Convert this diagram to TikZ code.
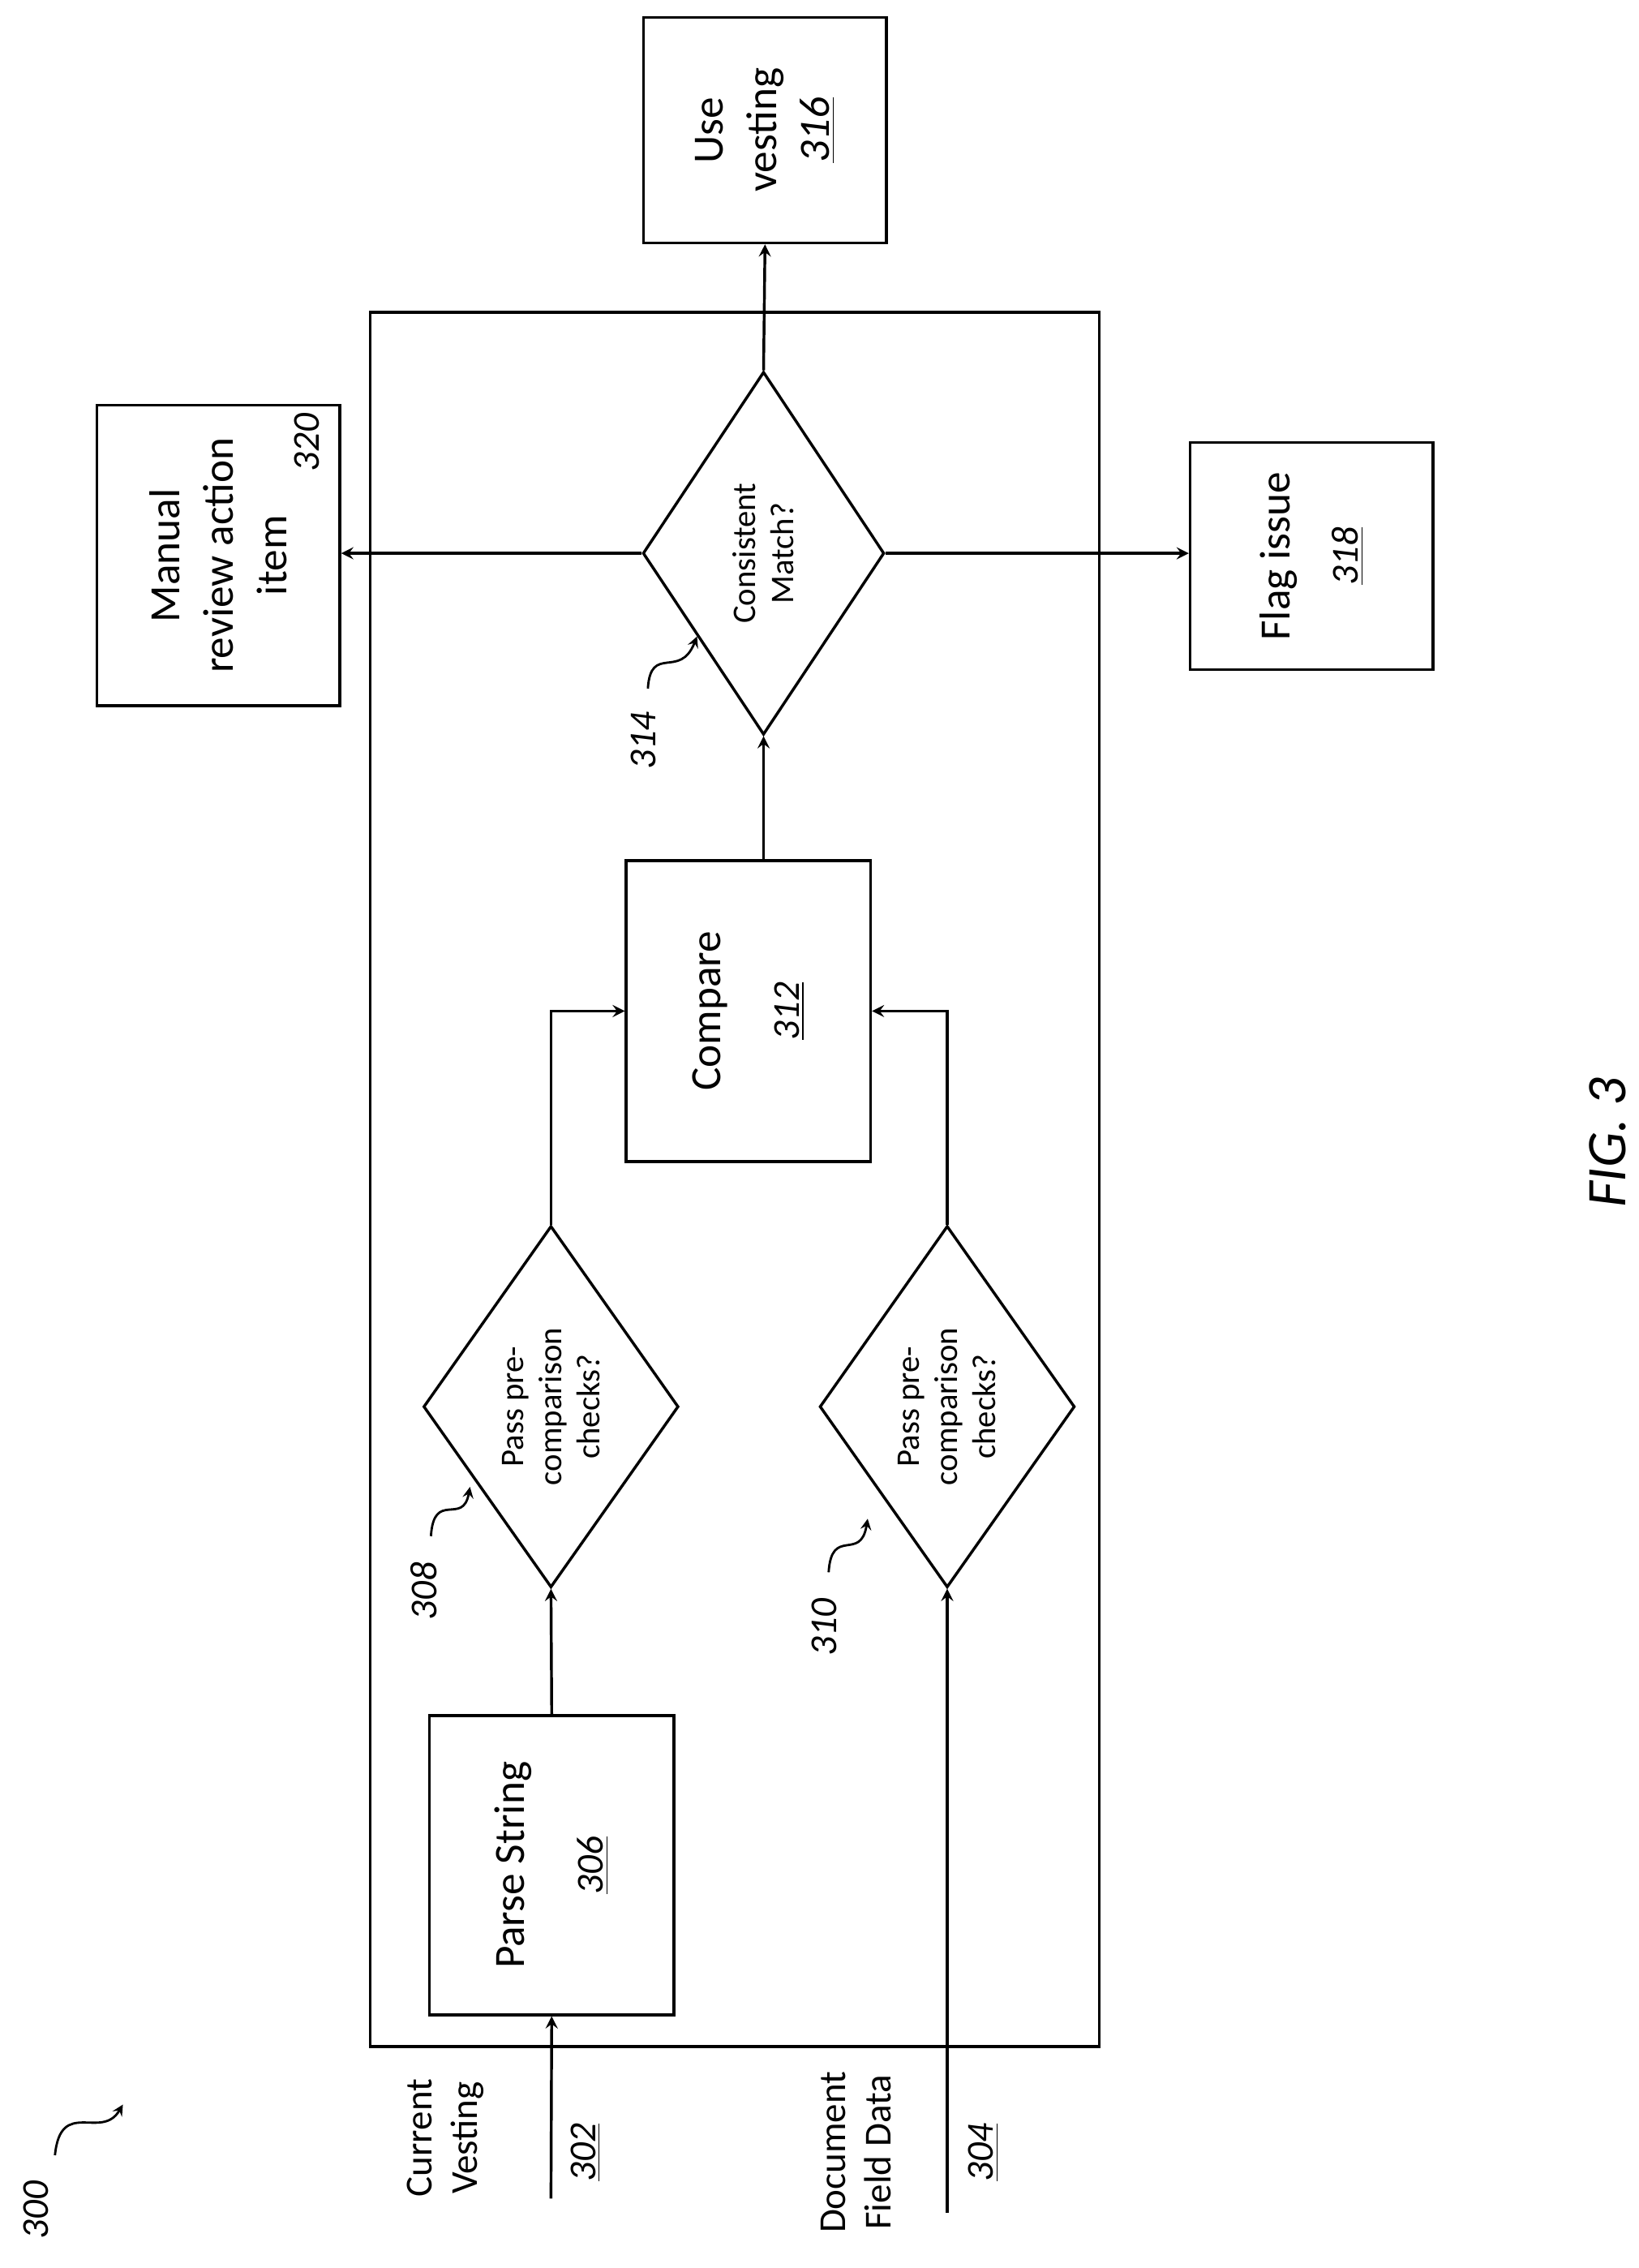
\documentclass[tikz,border=0pt]{standalone}
\usepackage{fontspec}
\setmainfont{Carlito}
\usetikzlibrary{shapes.geometric}

\tikzset{
  box/.style = {draw, line width = 1.1pt, rotate = 90, align = center, inner sep = 0pt,
                font = \fontsize{17}{21}\selectfont},
  test/.style = {draw, diamond, line width = 1.1pt, rotate = 90, align = center, inner sep = 0pt,
                 font = \fontsize{13}{15}\selectfont},
  tag/.style = {rotate = 90, font = \fontsize{15}{18}\selectfont\itshape},
  lbl/.style = {rotate = 90, align = center, font = \fontsize{15}{18}\selectfont},
  flow/.style = {line width = 1.1pt, ->, >=stealth}
}
\newcommand{\refnum}[1]{\underline{\itshape #1}}

\begin{document}
\begin{tikzpicture}[x = 0.02cm, y = -0.02cm]
                          \useasboundingbox (0,0) rectangle (1133,1568);
                          \draw [line width = 1.1pt] (256,216) rectangle (760,1415);
                          % boxes
                          \node (use) [box, minimum width = 3.12cm, minimum height = 3.36cm] at (529,90) {Use\\vesting\\\refnum{316}};
                          \node (man) [box, minimum width = 4.16cm, minimum height = 3.36cm] at (151,384) {Manual\\review action\\item};
                          \node (num320) [tag] at (212,306) {320};
                          \node (flag) [box, minimum width = 3.14cm, minimum height = 3.36cm] at (907,384.5) {Flag issue\\[6pt]{\fontsize{15}{18}\selectfont\refnum{318}}};
                          \node (cmp) [box, minimum width = 4.16cm, minimum height = 3.38cm] at (517.5,699) {Compare\\[10pt]{\fontsize{15}{18}\selectfont\refnum{312}}};
                          \node (parse) [box, minimum width = 4.14cm, minimum height = 3.38cm] at (381.5,1289.5) {Parse String\\[10pt]{\fontsize{15}{18}\selectfont\refnum{306}}};
                          % decisions
                          \node (d314) [test, minimum width = 5.02cm, minimum height = 3.34cm] at (528,382.5) {Consistent\\Match?};
                          \node (d308) [test, minimum width = 5.0cm, minimum height = 3.34cm] at (381,972.5) {Pass pre-\\comparison\\checks?};
                          \node (d310) [test, minimum width = 5.0cm, minimum height = 3.34cm] at (655,972.5) {Pass pre-\\comparison\\checks?};
                          % inputs
                          \coordinate (in302) at (381,1520);
                          \coordinate (in304) at (655,1530);
                          \node (cv) [lbl] at (308,1478) {Current\\Vesting};
                          \node (n302) [tag] at (405,1488) {\underline{302}};
                          \node (dfd) [lbl] at (592,1488) {Document\\Field Data};
                          \node (n304) [tag] at (680,1488) {\underline{304}};
                          % connectors
                          \draw [flow] (in302) -- (parse.west);
                          \draw [flow] (in304) -- (d310.west);
                          \draw [flow] (parse.east) -- (d308.west);
                          \draw [flow] (d308.east) |- (cmp.north);
                          \draw [flow] (d310.east) |- (cmp.south);
                          \draw [flow] (d314.west |- cmp.east) -- (d314.west);
                          \draw [flow] (d314.east) -- (use.west);
                          \draw [flow] (d314.north) -- (d314.north -| man.south);
                          \draw [flow] (d314.south) -- (d314.south -| flag.north);
                          % reference numerals
                          \node (n300) [tag] at (25,1528) {300};
                          \node (n308) [tag] at (293,1100) {308};
                          \node (n310) [tag] at (570,1125) {310};
                          \node (n314) [tag] at (445,512) {314};
                          \draw [line width = 0.9pt, ->, >=stealth] (38,1490) .. controls (42,1450) and (70,1480) .. (85,1455);
                          \draw [line width = 0.9pt, ->, >=stealth] (298,1062) .. controls (300,1030) and (320,1055) .. (325,1028);
                          \draw [line width = 0.9pt, ->, >=stealth] (573,1087) .. controls (575,1055) and (595,1080) .. (600,1050);
                          \draw [line width = 0.9pt, ->, >=stealth] (448,476) .. controls (450,445) and (470,470) .. (482,440);
                          \node (fig) [rotate = 90, font = \fontsize{22}{26}\selectfont\itshape] at (1112,790) {FIG. 3};
                        \end{tikzpicture}
\end{document}
